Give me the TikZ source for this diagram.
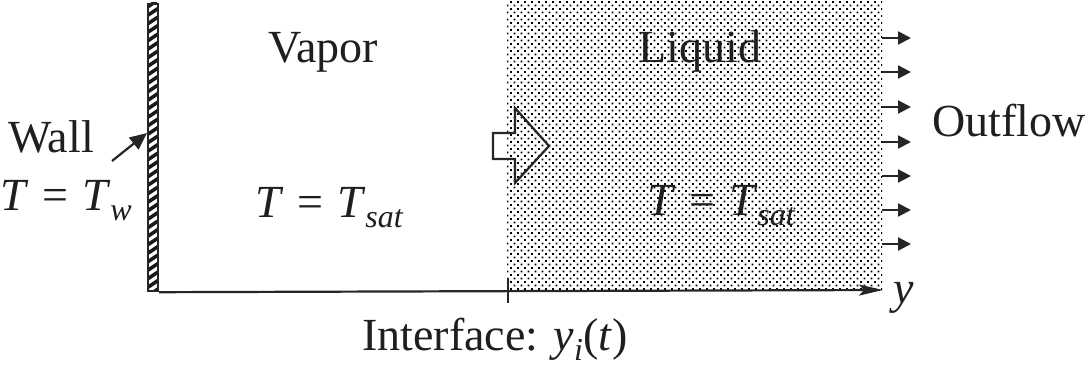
\documentclass[tikz,border=0pt]{standalone}
\usepackage{fontspec}
\setmainfont{Liberation Serif}
\usepackage{graphicx}
\usetikzlibrary{arrows.meta,patterns.meta}
\newcommand{\lsb}[1]{\raisebox{-10pt}{\fontsize{32}{34}\selectfont\itshape #1}}
\newcommand{\eqsym}{\hspace{0.3em}=\hspace{0.3em}}
\begin{document}
\begin{tikzpicture}[x=1pt,y=-1pt,
  lbl/.style={inner sep=0pt, font=\fontsize{46}{50}\selectfont, text=black!88},
  thickline/.style={line width=2.2pt, draw=black!85},
  outarrow/.style={line width=2.2pt, draw=black!85, -{Triangle[length=13pt,width=13pt]}},
  wallbox/.style={draw=black!85, line width=2.2pt, inner sep=0pt, minimum width=10pt, minimum height=287pt}]
\useasboundingbox (0,0) rectangle (1091,366);
% liquid region
\fill[pattern={Dots[radius=1.15pt,distance=4.95pt,angle=45]}, pattern color=black] (507,0) rectangle (882,290);
% wall
\node[wallbox, anchor=north west] (wall) at (147,3) {};
\begin{scope}
  \clip (147,3) rectangle (157,290);
  \foreach \k in {0,...,34} {
    \draw[line width=3.6pt, black!90] (146,{8+\k*8.5}) -- (158,{0+\k*8.5});
  }
\end{scope}
\node[wallbox, anchor=north west] at (147,3) {};
% axis
\coordinate (yend) at (883,290);
\draw[thickline, -{Stealth[length=24pt,width=11pt,inset=5pt]}] (wall.south east) -- (yend);
\coordinate (iface) at (508,290);
\draw[line width=2.4pt, black!85] ([yshift=12pt]iface) -- ([yshift=-13pt]iface);
% big hollow arrow
\draw[thickline, line join=miter] (493,133) -- (515,133) -- (515,108) -- (549,146) -- (515,183) -- (515,159) -- (493,159) -- cycle;
% outflow arrows
\foreach \yy in {38,72,107,142,176,210,244} {
  \coordinate (os\yy) at (882,\yy);
  \coordinate (oe\yy) at (911,\yy);
  \draw[outarrow] (os\yy) -- (oe\yy);
}
% wall arrow
\coordinate (wtail) at (112,161);
\draw[thickline, -{Triangle[length=17pt,width=15pt]}] (wtail) -- (wall.west |- 0,133);
% labels
\node[lbl, anchor=base west] (walllbl) at (8,153) {Wall};
\node[lbl, anchor=base west] (tw) at (0,210) {\textit{T}\eqsym\textit{T}\lsb{w}};
\node[lbl, anchor=base] (vapor) at (323,63) {Vapor};
\node[lbl, anchor=base] (liquid) at (700,63) {Liquid};
\node[lbl, anchor=base west] (tv) at (255,217) {\textit{T}\eqsym\textit{T}\lsb{sat}};
\node[lbl, anchor=base west] (tl) at (647,215) {\textit{T}\eqsym\textit{T}\lsb{sat}};
\node[lbl, anchor=base west] (outflow) at (932,137) {Outflow};
\node[lbl, anchor=base west] (ylbl) at (893,303) {\textit{y}};
\node[lbl, anchor=base west] (ifacelbl) at (362,350) {Interface: \textit{y}\lsb{i}(\textit{t})};
\end{tikzpicture}
\end{document}
